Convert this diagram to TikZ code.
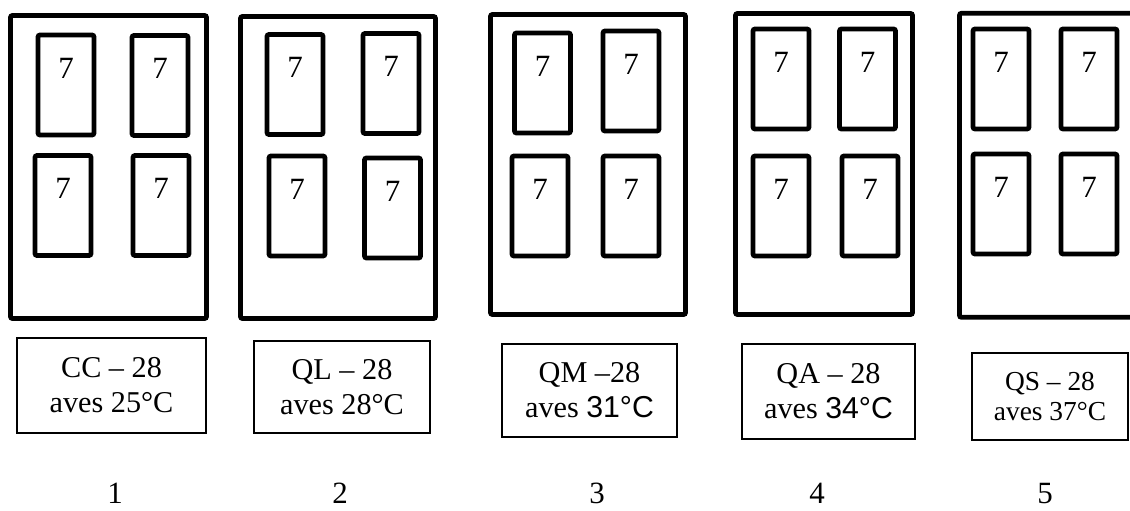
\documentclass[tikz,border=0pt]{standalone}
\usepackage{fontspec}
\setmainfont{Liberation Serif}
\newfontfamily\arialfont{Liberation Sans}
\usepackage{tikz}
\tikzset{
    cabinet/.style = {draw, rectangle, line width=.12cm,
        rounded corners=1.5pt, inner sep=0pt},
    tray/.style = {draw, rectangle, line width=.12cm,
        rounded corners=1.5pt, inner sep=0pt,
        minimum width=1.4cm, minimum height=2.5cm,
        label={[yshift=.42cm,font=\fontsize{22}{26}\selectfont]center:7}},
    tag/.style = {draw, rectangle, line width=.8pt, inner sep=0pt,
        align=center, font=\fontsize{21.5}{25}\selectfont},
    num/.style = {anchor=base, font=\fontsize{22}{26}\selectfont}
}

\begin{document}
\begin{tikzpicture}[x=.025cm,y=-.025cm]
            \useasboundingbox (0,0) rectangle (1130,511);
            % cabinet 1
            \node[cabinet,minimum width=4.9cm,minimum height=7.575cm] (cab1) at (108.5,167) {};
            \node[tray] (t1a) at (66,85) {};
            \node[tray] (t1b) at (160,85.5) {};
            \node[tray] (t1c) at (63,205.5) {};
            \node[tray] (t1d) at (161,205.5) {};
            % cabinet 2
            \node[cabinet,minimum width=4.875cm,minimum height=7.55cm] (cab2) at (338,167.5) {};
            \node[tray] (t2a) at (295,84.5) {};
            \node[tray] (t2b) at (391,83.5) {};
            \node[tray] (t2c) at (297,206) {};
            \node[tray] (t2d) at (392.5,208) {};
            % cabinet 3
            \node[cabinet,minimum width=4.875cm,minimum height=7.5cm] (cab3) at (588,164.5) {};
            \node[tray] (t3a) at (542.5,83) {};
            \node[tray] (t3b) at (631,81) {};
            \node[tray] (t3c) at (540,206) {};
            \node[tray] (t3d) at (631,206) {};
            % cabinet 4
            \node[cabinet,minimum width=4.425cm,minimum height=7.525cm] (cab4) at (824,164) {};
            \node[tray] (t4a) at (781,79) {};
            \node[tray] (t4b) at (867.5,79) {};
            \node[tray] (t4c) at (781,206) {};
            \node[tray] (t4d) at (870,206) {};
            % cabinet 5 (runs off the page)
            \node[cabinet,minimum width=4.425cm,minimum height=7.6cm] (cab5) at (1048,165.3) {};
            \node[tray] (t5a) at (1001,79) {};
            \node[tray] (t5b) at (1089,79) {};
            \node[tray] (t5c) at (1001,204) {};
            \node[tray] (t5d) at (1089,204) {};
            % tags
            \node[tag,minimum width=4.725cm,minimum height=2.375cm] (tag1) at (111.5,385.5) {CC – 28\\aves 25°C};
            \node[tag,minimum width=4.4cm,minimum height=2.3cm] (tag2) at (342,387) {QL – 28\\aves 28°C};
            \node[tag,minimum width=4.375cm,minimum height=2.325cm] (tag3) at (589.5,390.5) {QM –28\\aves {\arialfont 31°C}};
            \node[tag,minimum width=4.325cm,minimum height=2.375cm] (tag4) at (828.5,391.5) {QA – 28\\aves {\arialfont 34°C}};
            \node[tag,minimum width=3.9cm,minimum height=2.175cm,font=\fontsize{19.5}{22}\selectfont] (tag5) at (1050,396.5) {QS – 28\\aves 37°C};
            % numbers
            \node[num] (n1) at (115,503) {1};
            \node[num] (n2) at (340,503) {2};
            \node[num] (n3) at (597,503) {3};
            \node[num] (n4) at (817,503) {4};
            \node[num] (n5) at (1045,503) {5};
        \end{tikzpicture}
\end{document}
